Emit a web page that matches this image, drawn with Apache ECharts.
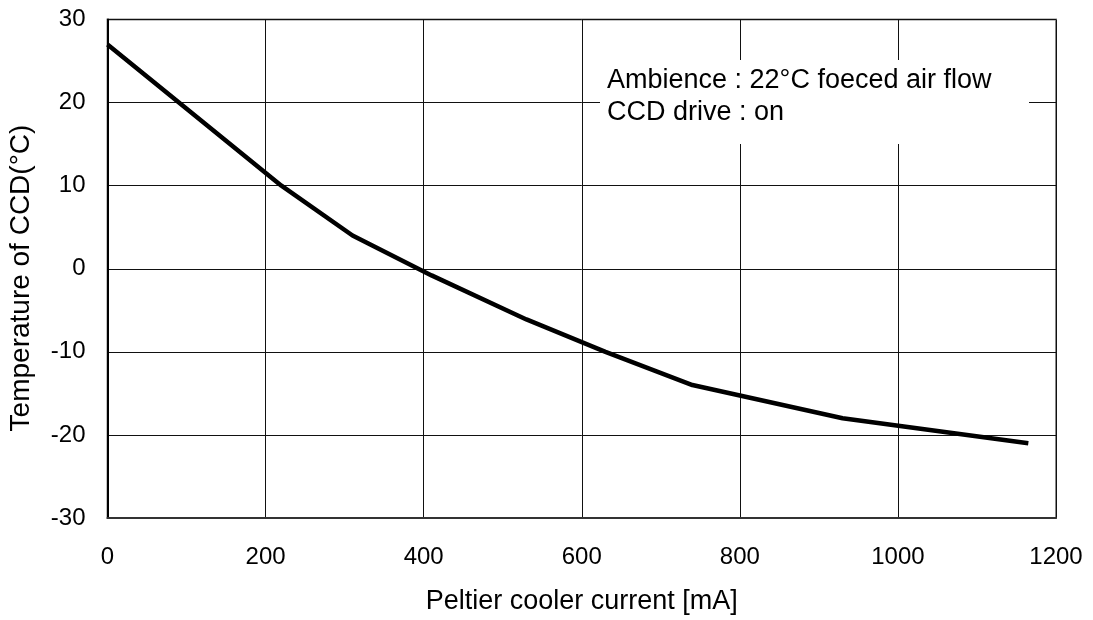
<!DOCTYPE html>
<html>
<head>
<meta charset="utf-8">
<script src="https://cdn.jsdelivr.net/npm/echarts@6/dist/echarts.min.js"></script>
<style>
html,body{margin:0;padding:0;background:#fff;}
#chart{width:1093px;height:620px;}
</style>
</head>
<body>
<div id="chart"></div>
<script>
// Data
const currentMA = [0, 220, 310, 410, 530, 630, 740, 930, 1165];
const temperatureC = [27, 10, 4, -0.8, -6.1, -10, -14, -18, -21];
const xTicks = [0, 200, 400, 600, 800, 1000, 1200];
const yTicks = [-30, -20, -10, 0, 10, 20, 30];
const annotationLines = ['Ambience : 22°C foeced air flow', 'CCD drive : on'];
const xAxisName = 'Peltier cooler current [mA]';
const yAxisName = 'Temperature of CCD(°C)';

const FONT = 'Liberation Sans, Arial, sans-serif';
const chart = echarts.init(document.getElementById('chart'), null, {renderer: 'canvas'});

const points = currentMA.map((x, i) => [x, temperatureC[i]]);

chart.setOption({
  animation: false,
  backgroundColor: '#fff',
  grid: {
    left: 107.5, right: 37, top: 19.5, bottom: 101,
    show: true, borderColor: '#888', borderWidth: 2, backgroundColor: '#fff'
  },
  xAxis: {
    type: 'value',
    min: xTicks[0], max: xTicks[xTicks.length - 1], interval: 200,
    axisLine: {show: true, onZero: false, lineStyle: {color: '#333', width: 2}},
    axisTick: {show: false},
    splitLine: {show: true, lineStyle: {color: '#111', width: 1}},
    axisLabel: {color: '#000', fontSize: 24, fontFamily: FONT, margin: 27, formatter: v => String(v)},
    name: xAxisName, nameLocation: 'middle', nameGap: 70,
    nameTextStyle: {color: '#000', fontSize: 27, fontFamily: FONT}
  },
  yAxis: {
    type: 'value',
    min: yTicks[0], max: yTicks[yTicks.length - 1], interval: 10,
    axisLine: {show: true, onZero: false, lineStyle: {color: '#000', width: 2}},
    axisTick: {show: false},
    splitLine: {show: true, lineStyle: {color: '#111', width: 1}},
    axisLabel: {color: '#000', fontSize: 24, fontFamily: FONT, margin: 22, formatter: v => String(v)}
  },
  graphic: [
    {
      type: 'rect', z: 100,
      shape: {x: 600, y: 60, width: 429, height: 84},
      style: {fill: '#fff'}
    },
    {
      type: 'text', z: 101, left: 607, top: 65,
      style: {text: annotationLines.join('\n'), fill: '#000', fontSize: 27, fontFamily: FONT, lineHeight: 31.5}
    },
    {
      type: 'text', z: 101, x: 21.7, y: 278, rotation: Math.PI / 2,
      style: {text: yAxisName, fill: '#000', fontSize: 28, fontFamily: FONT, align: 'center', verticalAlign: 'middle'}
    }
  ],
  series: [{
    type: 'line',
    data: points,
    showSymbol: false,
    lineStyle: {color: '#000', width: 4.5},
    z: 10
  }]
});
</script>
</body>
</html>
